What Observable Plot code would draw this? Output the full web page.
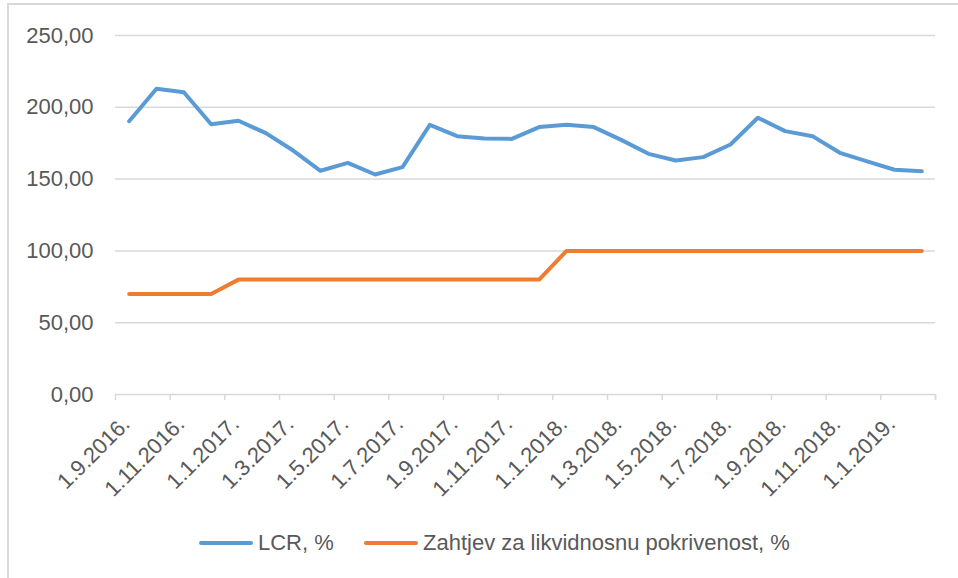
<!DOCTYPE html>
<html>
<head>
<meta charset="utf-8">
<script src="https://cdn.jsdelivr.net/npm/d3@7"></script>
<script src="https://cdn.jsdelivr.net/npm/@observablehq/plot@0.6"></script>
<style>
  html, body { margin: 0; padding: 0; background: #fff; }
  #wrap { position: relative; width: 958px; height: 578px; overflow: hidden; font-family: "Liberation Sans", Arial, sans-serif; }
  #frame { position: absolute; left: 7px; top: 3px; width: 1000px; height: 700px; border-top: 2px solid #d9d9d9; border-left: 2px solid #d9d9d9; }
  #chart { position: absolute; left: 0; top: 0; }
  #legend { position: absolute; left: 0; top: 529px; width: 958px; height: 28px; }
  .item { position: absolute; top: 0; display: flex; align-items: center; height: 28px; font-size: 22px; color: #595959; }
  .swatch { width: 54px; height: 4px; border-radius: 2px; margin-right: 5px; }
</style>
</head>
<body>
<div id="wrap">
  <div id="frame"></div>
  <div id="chart"></div>
  <div id="legend"></div>
</div>
<script>
// Monthly categories (1.9.2016. – 1.2.2019.)
const months = [
  "1.9.2016.", "1.10.2016.", "1.11.2016.", "1.12.2016.",
  "1.1.2017.", "1.2.2017.", "1.3.2017.", "1.4.2017.", "1.5.2017.", "1.6.2017.",
  "1.7.2017.", "1.8.2017.", "1.9.2017.", "1.10.2017.", "1.11.2017.", "1.12.2017.",
  "1.1.2018.", "1.2.2018.", "1.3.2018.", "1.4.2018.", "1.5.2018.", "1.6.2018.",
  "1.7.2018.", "1.8.2018.", "1.9.2018.", "1.10.2018.", "1.11.2018.", "1.12.2018.",
  "1.1.2019.", "1.2.2019."
];
// LCR, %
const lcr = [
  190.3, 212.9, 210.5, 188.2, 190.6, 182.0, 169.9, 155.8, 161.3, 153.2,
  158.3, 187.8, 179.9, 178.3, 178.0, 186.2, 187.8, 186.2, 177.3, 167.6,
  163.0, 165.3, 174.1, 192.7, 183.4, 179.9, 168.3, 162.3, 156.5, 155.5
];
// Zahtjev za likvidnosnu pokrivenost, %
const req = [
  70, 70, 70, 70, 80, 80, 80, 80, 80, 80,
  80, 80, 80, 80, 80, 80, 100, 100, 100, 100,
  100, 100, 100, 100, 100, 100, 100, 100, 100, 100
];
const yTicks = [0, 50, 100, 150, 200, 250];
const seriesNames = ["LCR, %", "Zahtjev za likvidnosnu pokrivenost, %"];
const colors = ["#5b9bd5", "#ed7d31"];

const rows = months.map((m, i) => ({i, month: m, lcr: lcr[i], req: req[i]}));
const labelIdx = months.map((_, i) => i).filter(i => i % 2 === 0);
const boundaries = d3.range(-0.5, months.length, 2).concat([months.length - 0.5]);

const fmt = d => d.toFixed(2).replace(".", ",");

const chart = Plot.plot({
  width: 958,
  height: 510,
  marginLeft: 115,
  marginRight: 23,
  marginTop: 35,
  marginBottom: 116,
  style: {fontFamily: "'Liberation Sans', Arial, sans-serif", fontSize: "22px", color: "#595959", background: "transparent"},
  x: {type: "linear", domain: [-0.5, months.length - 0.5]},
  y: {domain: [0, 250]},
  marks: [
    Plot.gridY(yTicks, {stroke: "#d9d9d9", strokeOpacity: 1, strokeWidth: 1.5}),
    Plot.axisY({ticks: yTicks, tickFormat: fmt, tickSize: 0, tickPadding: 22, label: null, fill: "#595959", fontSize: 22}),
    Plot.axisX({ticks: boundaries, tickSize: 6, tickFormat: () => "", label: null, stroke: "#d9d9d9", strokeOpacity: 1, strokeWidth: 1.5}),
    Plot.axisX({ticks: labelIdx, tickFormat: i => months[i], tickSize: 0, tickRotate: -45, tickPadding: 26, dx: -3, label: null, fill: "#595959", fontSize: 22}),
    Plot.line(rows, {x: "i", y: "req", stroke: colors[1], strokeWidth: 4, strokeLinecap: "round", strokeLinejoin: "round"}),
    Plot.line(rows, {x: "i", y: "lcr", stroke: colors[0], strokeWidth: 4, strokeLinecap: "round", strokeLinejoin: "round"})
  ]
});
document.getElementById("chart").appendChild(chart);

const legend = document.getElementById("legend");
const lefts = [199, 364];
seriesNames.forEach((name, k) => {
  const it = document.createElement("div");
  it.className = "item";
  it.style.left = lefts[k] + "px";
  const sw = document.createElement("div");
  sw.className = "swatch";
  sw.style.background = colors[k];
  const tx = document.createElement("span");
  tx.textContent = name;
  it.appendChild(sw); it.appendChild(tx);
  legend.appendChild(it);
});
</script>
</body>
</html>
